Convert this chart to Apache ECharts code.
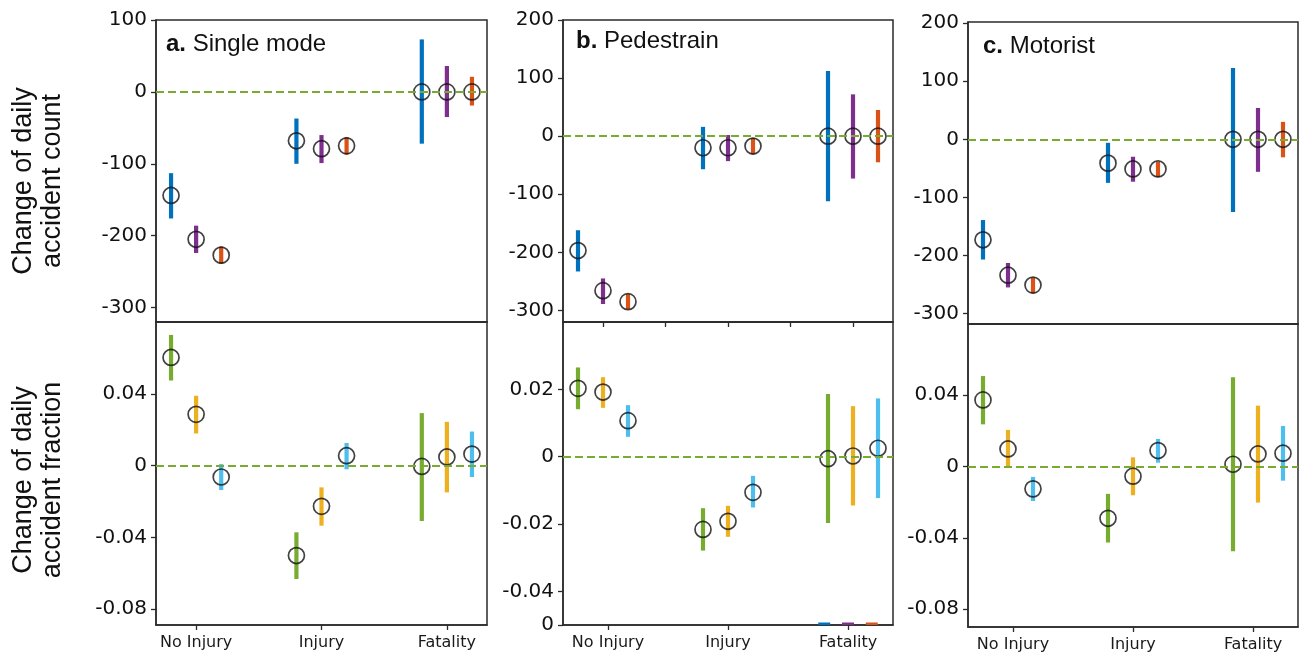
<!DOCTYPE html>
<html>
<head>
<meta charset="utf-8">
<script src="https://cdn.jsdelivr.net/npm/echarts@6/dist/echarts.min.js"></script>
<style>html,body{margin:0;padding:0;background:#fff}#c{width:1306px;height:655px}</style>
</head>
<body>
<div id="c"></div>
<script>
// ---------- data ----------
const categories = ['No Injury', 'Injury', 'Fatality'];
// rows: series (3 per panel), cols: categories
const aCountMean = [[-144, -68, 0], [-205, -79, 0], [-227, -75, 0]];
const aCountLow  = [[-176, -100, -72], [-224, -99, -35], [-239, -87, -19]];
const aCountHigh = [[-113, -37, 73], [-186, -60, 36], [-215, -63, 21]];

const aFracMean = [[0.0605, -0.0502, -0.0004], [0.0287, -0.0227, 0.0049], [-0.0063, 0.0056, 0.0065]];
const aFracLow  = [[0.0476, -0.0633, -0.0309], [0.018, -0.0335, -0.0149], [-0.0136, -0.002, -0.0063]];
const aFracHigh = [[0.0731, -0.0372, 0.0294], [0.0391, -0.0121, 0.0245], [0.0009, 0.0127, 0.0191]];

const bCountMean = [[-197, -20, 0], [-266, -20, 0], [-285, -17, 0]];
const bCountLow  = [[-233, -57, -112], [-289, -43, -73], [-298, -31, -45]];
const bCountHigh = [[-162, 16, 112], [-245, 2, 72], [-272, -3, 45]];

const bFracMean = [[0.0203, -0.0216, -0.0006], [0.0192, -0.0192, 0.0002], [0.0107, -0.0106, 0.0025]];
const bFracLow  = [[0.0141, -0.0279, -0.0197], [0.0145, -0.0238, -0.0145], [0.0059, -0.0151, -0.0123]];
const bFracHigh = [[0.0265, -0.0153, 0.0186], [0.0236, -0.0146, 0.015], [0.0153, -0.0057, 0.0173]];

const cCountMean = [[-173, -41, 0], [-234, -51, 0], [-251, -51, 0]];
const cCountLow  = [[-207, -75, -125], [-255, -73, -56], [-265, -65, -31]];
const cCountHigh = [[-139, -6, 123], [-213, -30, 54], [-238, -39, 30]];

const cFracMean = [[0.0374, -0.029, 0.0013], [0.0099, -0.0054, 0.0071], [-0.0125, 0.009, 0.0075]];
const cFracLow  = [[0.0237, -0.0426, -0.0475], [0, -0.0161, -0.0202], [-0.0193, 0.0022, -0.0079]];
const cFracHigh = [[0.0508, -0.0153, 0.0501], [0.0206, 0.0052, 0.0342], [-0.0058, 0.0155, 0.0228]];

// stray marks at the bottom of panel b (fraction), Fatality group
const bStrayLevel = -0.05;

// tick labels
const countTicksA = [-300, -200, -100, 0, 100];
const countTicksBC = [-300, -200, -100, 0, 100, 200];
const fracTicksAC = [-0.08, -0.04, 0, 0.04];
const fracLabelsAC = ['-0.08', '-0.04', '0', '0.04'];
const fracTicksB = [-0.05, -0.04, -0.02, 0, 0.02];
const fracLabelsB = ['0', '-0.04', '-0.02', '0', '0.02'];

const titles = [['a.', 'Single mode'], ['b.', 'Pedestrain'], ['c.', 'Motorist']];
const yNames = ['Change of daily\naccident count', 'Change of daily\naccident fraction'];

// ---------- styles ----------
const countColors = ['#0072BD', '#7E2F8E', '#D95319'];
const fracColors = ['#77AC30', '#EDB120', '#4DBEEE'];
const offsets = [-0.2, 0, 0.2];
const XMIN = -0.32, XMAX = 2.32;
const AX = '#2b2b2b';
const FONT = 'DejaVu Sans';

const grids = [
  {left: 156, top: 20, width: 331, height: 302},
  {left: 156, top: 322, width: 331, height: 303},
  {left: 563, top: 20, width: 330, height: 302},
  {left: 563, top: 322, width: 330, height: 303},
  {left: 968, top: 22, width: 330, height: 302},
  {left: 968, top: 324, width: 330, height: 303}
];

const panelDefs = [
  {g: 0, ymin: -320, ymax: 100, ticks: countTicksA, labels: countTicksA.map(String), mean: aCountMean, low: aCountLow, high: aCountHigh, colors: countColors, bottom: false, topTicks: false},
  {g: 1, ymin: -0.089, ymax: 0.0803, ticks: fracTicksAC, labels: fracLabelsAC, mean: aFracMean, low: aFracLow, high: aFracHigh, colors: fracColors, bottom: true, shift: 0},
  {g: 2, ymin: -320, ymax: 200, ticks: countTicksBC, labels: countTicksBC.map(String), mean: bCountMean, low: bCountLow, high: bCountHigh, colors: countColors, bottom: false, topTicks: true},
  {g: 3, ymin: -0.05, ymax: 0.04, ticks: fracTicksB, labels: fracLabelsB, mean: bFracMean, low: bFracLow, high: bFracHigh, colors: fracColors, bottom: true, shift: 0.04},
  {g: 4, ymin: -318, ymax: 202, ticks: countTicksBC, labels: countTicksBC.map(String), mean: cCountMean, low: cCountLow, high: cCountHigh, colors: countColors, bottom: false, topTicks: false},
  {g: 5, ymin: -0.09, ymax: 0.08, ticks: fracTicksAC, labels: fracLabelsAC, mean: cFracMean, low: cFracLow, high: cFracHigh, colors: fracColors, bottom: true, shift: 0.04}
];

const xAxes = [], yAxes = [], series = [];

panelDefs.forEach(p => {
  let xTickVals, xLabelShow = false;
  if (p.bottom) {
    xTickVals = [0 + p.shift, 1, 2 - p.shift];
    xLabelShow = true;
  } else if (p.topTicks) {
    xTickVals = [0, 0.5, 1, 1.5, 2];
  } else {
    xTickVals = null;
  }
  xAxes.push({
    type: 'value', gridIndex: p.g, min: XMIN, max: XMAX,
    axisLine: {show: true, onZero: false, lineStyle: {color: AX, width: 1.5}},
    axisTick: xTickVals ? {show: true, inside: false, length: 5, customValues: xTickVals, lineStyle: {color: AX, width: 1.3}} : {show: false},
    axisLabel: xLabelShow ? {
      show: true, customValues: xTickVals, margin: 10, fontFamily: FONT, fontSize: 16, color: '#1a1a1a',
      formatter: v => categories[Math.round(v)]
    } : {show: false},
    splitLine: {show: false}
  });
  yAxes.push({
    type: 'value', gridIndex: p.g, min: p.ymin, max: p.ymax,
    axisLine: {show: true, onZero: false, lineStyle: {color: AX, width: 1.5}},
    axisTick: {show: true, inside: false, length: 5, customValues: p.ticks, lineStyle: {color: AX, width: 1.3}},
    axisLabel: {
      show: true, customValues: p.ticks, margin: 9, fontFamily: FONT, fontSize: 20, color: '#111',
      formatter: v => {
        for (let i = 0; i < p.ticks.length; i++) if (Math.abs(p.ticks[i] - v) < 1e-9) return p.labels[i];
        return '';
      }
    },
    splitLine: {show: false}
  });

  // zero dashed line
  series.push({
    type: 'line', xAxisIndex: p.g, yAxisIndex: p.g, data: [], z: 3, silent: true,
    markLine: {
      silent: true, symbol: ['none', 'none'], label: {show: false}, animation: false,
      lineStyle: {color: '#77AC30', width: 2.2, type: [8, 4]},
      data: [{yAxis: 0}]
    }
  });

  for (let s = 0; s < 3; s++) {
    const barData = categories.map((c, ci) => [ci + offsets[s], p.low[s][ci], p.high[s][ci]]);
    const ptData = categories.map((c, ci) => [ci + offsets[s], p.mean[s][ci]]);
    const color = p.colors[s];
    series.push({
      type: 'custom', xAxisIndex: p.g, yAxisIndex: p.g, z: 2, clip: true, silent: true,
      data: barData,
      renderItem: (params, api) => {
        const a = api.coord([api.value(0), api.value(1)]);
        const b = api.coord([api.value(0), api.value(2)]);
        return {type: 'line', shape: {x1: a[0], y1: a[1], x2: b[0], y2: b[1]},
          style: {stroke: color, lineWidth: 4.2, lineCap: 'butt'}};
      },
      animation: false
    });
    series.push({
      type: 'scatter', xAxisIndex: p.g, yAxisIndex: p.g, z: 4, silent: true,
      data: ptData, symbol: 'circle', symbolSize: 16,
      itemStyle: {color: 'rgba(0,0,0,0)', borderColor: '#111', borderWidth: 1.7},
      animation: false
    });
  }
});

// stray short marks at panel b fraction bottom (Fatality group)
series.push({
  type: 'custom', xAxisIndex: 3, yAxisIndex: 3, z: 2, clip: false, silent: true,
  data: countColors.map((c, i) => [2 - 0.04 + (i - 1) * 0.19, bStrayLevel, i]),
  renderItem: (params, api) => {
    const pt = api.coord([api.value(0), api.value(1)]);
    return {type: 'rect', shape: {x: pt[0] - 6, y: pt[1] - 2.5, width: 12, height: 2.5},
      style: {fill: countColors[api.value(2)]}};
  },
  animation: false
});

const graphic = [];
const titlePos = [[166, 44], [576, 41], [983, 46]];
titles.forEach((t, i) => {
  graphic.push({
    type: 'text', x: titlePos[i][0], y: titlePos[i][1], z: 10,
    style: {
      text: '{b|' + t[0] + '} ' + t[1],
      fontFamily: 'Liberation Sans', fontSize: 24, fill: '#111',
      align: 'left', verticalAlign: 'middle',
      rich: {b: {fontFamily: 'Liberation Sans', fontSize: 24, fontWeight: 'bold', fill: '#111'}}
    }
  });
});
const yNamePos = [[38.5, 181], [38.5, 480]];
yNames.forEach((n, i) => {
  graphic.push({
    type: 'text', x: yNamePos[i][0], y: yNamePos[i][1], rotation: Math.PI / 2, z: 10,
    style: {
      text: n, fontFamily: 'Liberation Sans', fontSize: 27, lineHeight: 29, fill: '#111',
      align: 'center', verticalAlign: 'middle'
    }
  });
});

const chart = echarts.init(document.getElementById('c'), null, {renderer: 'canvas'});
chart.setOption({
  animation: false,
  backgroundColor: '#fff',
  grid: grids.map(g => Object.assign({show: true, borderColor: AX, borderWidth: 1.5, backgroundColor: 'rgba(0,0,0,0)', containLabel: false}, g)),
  xAxis: xAxes,
  yAxis: yAxes,
  series: series,
  graphic: graphic
});
</script>
</body>
</html>
